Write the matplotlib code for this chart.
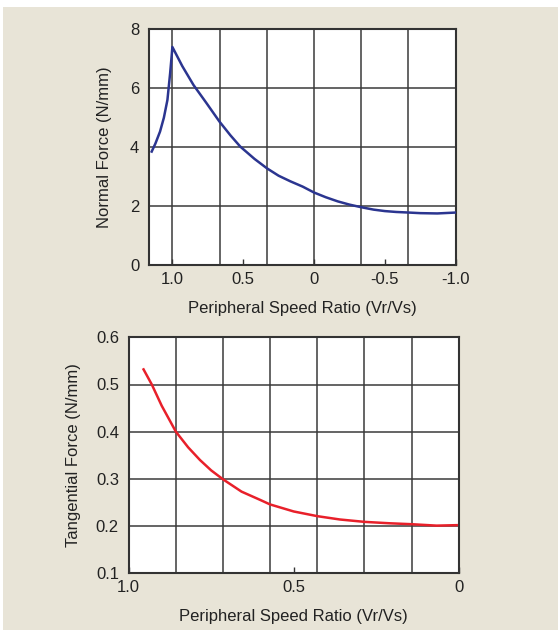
import numpy as np
import matplotlib.pyplot as plt
from matplotlib.patches import Rectangle

plt.rcParams['font.family'] = ['Liberation Sans', 'DejaVu Sans']

# normal force vs peripheral speed ratio (top chart)
ratio_n = [1.146, 1.12, 1.087, 1.06, 1.035, 1.016, 1.005, 1.0, 0.93, 0.851, 0.76, 0.668,
           0.59, 0.521, 0.42, 0.332, 0.25, 0.167, 0.08, 0.0, -0.083, -0.167, -0.25,
           -0.334, -0.42, -0.5, -0.58, -0.669, -0.75, -0.87, -1.0]
normal = [3.85, 4.12, 4.53, 5.0, 5.6, 6.5, 7.1, 7.4, 6.75, 6.11, 5.5, 4.87,
          4.4, 4.02, 3.6, 3.28, 3.03, 2.84, 2.66, 2.46, 2.3, 2.16, 2.05,
          1.96, 1.88, 1.83, 1.8, 1.78, 1.76, 1.75, 1.78]

# tangential force vs peripheral speed ratio (bottom chart)
ratio_t = [0.955, 0.93, 0.9, 0.857, 0.82, 0.784, 0.75, 0.714, 0.658, 0.6, 0.572, 0.5,
           0.428, 0.36, 0.286, 0.21, 0.142, 0.067, 0.006]
tangential = [0.532, 0.5, 0.455, 0.4, 0.367, 0.34, 0.318, 0.299, 0.273, 0.255, 0.246, 0.231,
              0.221, 0.214, 0.209, 0.206, 0.204, 0.201, 0.202]

bg = '#e8e4d7'
grid_c = '#3a3a3a'
fs = 12

fig = plt.figure(figsize=(5.58, 6.30), dpi=100, facecolor='white')
fig.patches.append(Rectangle((3 / 558, 0), 1, 623 / 630, transform=fig.transFigure,
                             facecolor=bg, edgecolor='none', zorder=-10))


def style(ax):
    for s in ax.spines.values():
        s.set_color('#333333')
        s.set_linewidth(1.5)
    ax.tick_params(axis='x', direction='in', length=4, width=1, colors='#333333',
                   labelcolor='#222222', labelsize=fs, pad=5)
    ax.tick_params(axis='y', length=0, labelcolor='#222222', labelsize=fs, pad=7)
    ax.set_facecolor('white')


# top chart
ax1 = fig.add_axes([149 / 558, 1 - 265 / 630, 306.7 / 558, 235.7 / 630])
for gx in [1.0, 2 / 3, 1 / 3, 0.0, -1 / 3, -2 / 3]:
    ax1.axvline(gx, color=grid_c, lw=1.1, zorder=1)
for gy in [2, 4, 6]:
    ax1.axhline(gy, color=grid_c, lw=1.1, zorder=1)
ax1.plot(ratio_n, normal, color='#2b3590', lw=1.8, zorder=3)
ax1.set_xlim(1.165, -1.0)
ax1.set_ylim(0, 8)
ax1.set_xticks([1.0, 0.5, 0, -0.5, -1.0])
ax1.set_xticklabels(['1.0', '0.5', '0', '-0.5', '-1.0'])
ax1.set_yticks([0, 2, 4, 6, 8])
ax1.set_xlabel('Peripheral Speed Ratio (Vr/Vs)', fontsize=fs, labelpad=10, color='#222222')
ax1.set_ylabel('Normal Force (N/mm)', fontsize=fs, labelpad=13, color='#222222')
style(ax1)

# bottom chart
ax2 = fig.add_axes([128.7 / 558, 1 - 573.3 / 630, 330 / 558, 236 / 630])
for k in range(1, 7):
    ax2.axvline(k / 7, color=grid_c, lw=1.1, zorder=1)
for gy in [0.2, 0.3, 0.4, 0.5]:
    ax2.axhline(gy, color=grid_c, lw=1.1, zorder=1)
ax2.plot(ratio_t, tangential, color='#e8202a', lw=1.8, zorder=3)
ax2.set_xlim(1.0, 0.0)
ax2.set_ylim(0.1, 0.6)
ax2.set_xticks([1.0, 0.5, 0])
ax2.set_xticklabels(['1.0', '0.5', '0'])
ax2.set_yticks([0.1, 0.2, 0.3, 0.4, 0.5, 0.6])
ax2.set_xlabel('Peripheral Speed Ratio (Vr/Vs)', fontsize=fs, labelpad=10, color='#222222')
ax2.set_ylabel('Tangential Force (N/mm)', fontsize=fs, labelpad=11, color='#222222')
style(ax2)

fig.savefig('out.png', dpi=100, facecolor=fig.get_facecolor())
